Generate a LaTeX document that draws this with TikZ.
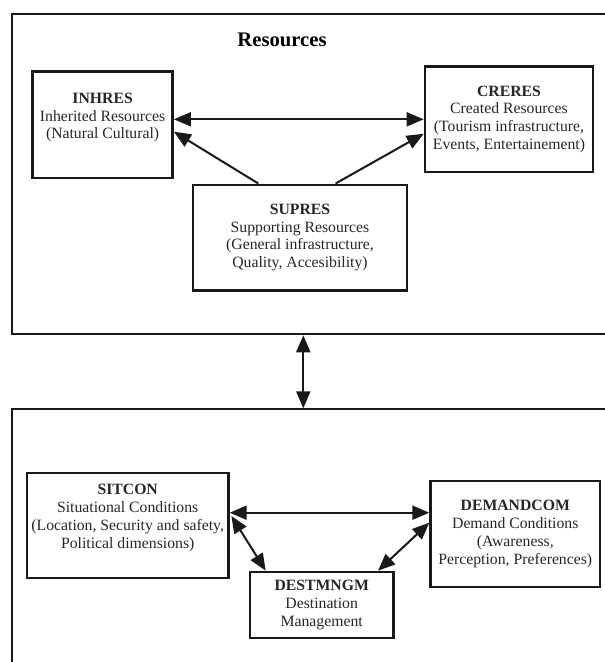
\documentclass[tikz,border=0pt]{standalone}
\usepackage{fontspec}
\setmainfont{Liberation Serif}
\usetikzlibrary{arrows.meta,calc}
\tikzset{
    %Define style for the factor boxes
    faktor/.style={
           rectangle,
           draw=black!90, line width=2pt,
           align=center,
           inner sep=2pt,
           font=\fontsize{11.8pt}{13.4pt}\selectfont,
           text=black!85},
    % Define style for the two outer frames
    ramme/.style={
           rectangle,
           draw=black!90, line width=1.5pt},
    % Define arrow style
    pil/.style={
           >={Triangle[length=12.75pt,width=10.5pt]},
           line width=1.5pt,
           draw=black!90}
}
% extra depth under the last line, lifts the text in the box
\newcommand*{\lift}{\rule[-13.5pt]{0pt}{13.5pt}}

\begin{document}
\begin{tikzpicture}[x=0.75pt,y=-0.75pt]
% The frames run off the right and the lower edge, so cut them there
\useasboundingbox (0,0) rectangle (605,662);
\clip (0,0) rectangle (605,662);

% Upper frame with its title
\node[ramme, minimum width=456.2pt, minimum height=240pt] (res) at (315.85,174.3) {};
\node[font=\bfseries\fontsize{15.5pt}{18pt}\selectfont] (title) at (282,40) {Resources};

% The three kinds of resources
\node[faktor, minimum width=104.9pt, minimum height=79.7pt] (inhres) at (102.6,124.9)
    {\textbf{INHRES}\\Inherited Resources\\(Natural Cultural)\lift};
\node[faktor, minimum width=126pt, minimum height=79pt] (creres) at (509,119.3)
    {\textbf{CRERES}\\Created Resources\\(Tourism infrastructure,\\Events, Entertainement)};
\node[faktor, minimum width=160.5pt, minimum height=79pt] (supres) at (300,237.5)
    {\textbf{SUPRES}\\Supporting Resources\\(General infrastructure,\\Quality, Accesibility)};

% Lower frame with the conditions
\node[ramme, minimum width=456.2pt, minimum height=203pt] (cond) at (315.85,544.65) {};
\node[faktor, minimum width=151pt, minimum height=78.75pt] (sitcon) at (127.7,525.5)
    {\textbf{SITCON}\\Situational Conditions\\(Location, Security and safety,\\Political dimensions)\lift};
\node[faktor, minimum width=127pt, minimum height=79.5pt] (demandcom) at (515.3,534)
    {\textbf{DEMANDCOM}\\Demand Conditions\\(Awareness,\\Perception, Preferences)};
\node[faktor, minimum width=107.5pt, minimum height=49.5pt] (destmngm) at (321.7,605)
    {\textbf{DESTMNGM}\\Destination\\Management};

% Now connect the nodes
\draw[pil,<->] (inhres.east |- creres.west) -- (creres.west);
\draw[pil,->] ($(supres.north)+(-41.7,0)$) -- ($(inhres.east)+(0,6.8)$);
\draw[pil,->] ($(supres.north)+(35.6,0)$) -- ($(creres.west)+(0,14.5)$);

\draw[pil,<->] ($(res.south)+(-12.55,0)$) -- ($(cond.north)+(-12.55,0)$);

\draw[pil,<->] ($(sitcon.east)+(0,-12.8)$) -- ($(demandcom.west)+(0,-21.3)$);
\draw[pil,<->] ($(sitcon.east)+(1.7,-9.5)$) -- ($(destmngm.north west)+(17,0)$);
\draw[pil,<->] ($(demandcom.west)+(0,-11.3)$) -- ($(destmngm.north east)+(-16.6,0)$);
\end{tikzpicture}
\end{document}
